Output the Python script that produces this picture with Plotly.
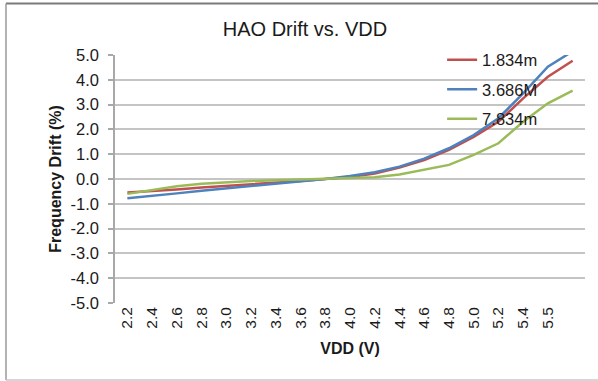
import plotly.graph_objects as go

# ---- data ----
vdd_labels = ["2.2", "2.4", "2.6", "2.8", "3.0", "3.2", "3.4", "3.6", "3.8", "4.0",
              "4.2", "4.4", "4.6", "4.8", "5.0", "5.2", "5.4", "5.5"]
series_names = ["1.834m", "3.686M", "7.834m"]
drift_1834m = [-0.54, -0.49, -0.42, -0.34, -0.28, -0.22, -0.15, -0.08, 0.0, 0.08,
               0.22, 0.46, 0.76, 1.17, 1.70, 2.31, 3.25, 4.12, 4.77]
drift_3686M = [-0.78, -0.69, -0.58, -0.47, -0.38, -0.28, -0.17, -0.08, 0.0, 0.12,
               0.27, 0.50, 0.82, 1.24, 1.77, 2.45, 3.45, 4.53, 5.15]
drift_7834m = [-0.60, -0.44, -0.29, -0.19, -0.13, -0.08, -0.05, -0.02, 0.0, 0.03,
               0.07, 0.18, 0.36, 0.57, 0.97, 1.44, 2.31, 3.05, 3.56]
y_tick_vals = [-5, -4, -3, -2, -1, 0, 1, 2, 3, 4, 5]

colors = ["#C0504D", "#4F81BD", "#9BBB59"]
FONT = "Liberation Sans, Arial, sans-serif"

fig = go.Figure()
for i, (name, vals) in enumerate(zip(series_names, [drift_1834m, drift_3686M, drift_7834m])):
    fig.add_trace(go.Scatter(
        x=list(range(len(vals))), y=vals, name=name, mode="lines",
        line=dict(color=colors[i], width=2.5), legendgroup=f"g{i}",
        xaxis="x", yaxis="y", cliponaxis=True,
    ))

n_pts = len(drift_1834m)
px = lambda v: (v - 115) / 470   # pixel -> paper x (border decoration only)
py = lambda v: (303 - v) / 248   # pixel -> paper y

fig.update_layout(
    width=598, height=381,
    margin=dict(l=115, r=13, t=55, b=78),
    paper_bgcolor="white", plot_bgcolor="white",
    font=dict(family=FONT, color="#1a1a1a"),
    title=dict(text="HAO Drift vs. VDD", x=0.51, xref="container", xanchor="center",
               y=1 - 29 / 381, yref="container", yanchor="middle",
               font=dict(size=20, family=FONT, color="#1a1a1a")),
    showlegend=True,
    legend=dict(x=0.696, y=1.05, xanchor="left", yanchor="top",
                bgcolor="rgba(0,0,0,0)", traceorder="grouped", tracegroupgap=5,
                font=dict(size=16.5, family=FONT, color="#1a1a1a")),
    xaxis=dict(
        range=[-0.5, n_pts - 0.5], tickvals=list(range(len(vdd_labels))), ticktext=vdd_labels,
        tickangle=-90, ticks="", showgrid=False, zeroline=False,
        showline=False, tickfont=dict(size=15.5, family=FONT),
        title=dict(text="<b>VDD (V)</b>", font=dict(size=16, family=FONT), standoff=15),
        automargin=False,
    ),
    xaxis2=dict(
        overlaying="x", anchor="free", position=0.5, range=[-0.5, n_pts - 0.5],
        tick0=-0.5, dtick=1, ticks="outside", ticklen=5, tickwidth=1.5, tickcolor="#A0A0A0",
        showticklabels=False, showgrid=False, zeroline=False,
        showline=True, linecolor="#A0A0A0", linewidth=1.5,
    ),
    yaxis=dict(
        range=[-5, 5], tickvals=y_tick_vals, ticktext=[f"{v:.1f}" for v in y_tick_vals],
        ticks="outside", ticklen=5, tickwidth=1.5, tickcolor="#A8A8A8",
        showline=True, linecolor="#A8A8A8", linewidth=1.5,
        showgrid=True, gridcolor="#C4C4C4", gridwidth=1.5, zeroline=False,
        tickfont=dict(size=16.5, family=FONT), ticklabelstandoff=6,
        title=dict(text="<b>Frequency Drift (%)</b>", font=dict(size=16, family=FONT), standoff=5),
        automargin=False,
    ),
    shapes=[
        dict(type="line", xref="paper", yref="paper", x0=px(6), x1=px(600), y0=py(3.5), y1=py(3.5),
             line=dict(color="#7A7A7A", width=2), layer="below"),
        dict(type="line", xref="paper", yref="paper", x0=px(6), x1=px(6), y0=py(3.5), y1=py(380),
             line=dict(color="#9A9A9A", width=1.5), layer="below"),
        dict(type="line", xref="paper", yref="paper", x0=px(6), x1=px(600), y0=py(380), y1=py(380),
             line=dict(color="#C8C8C8", width=1.5), layer="below"),
    ],
)

fig.write_html("out.html", config={"displayModeBar": False},
               post_script="document.body.style.margin='0px';")
